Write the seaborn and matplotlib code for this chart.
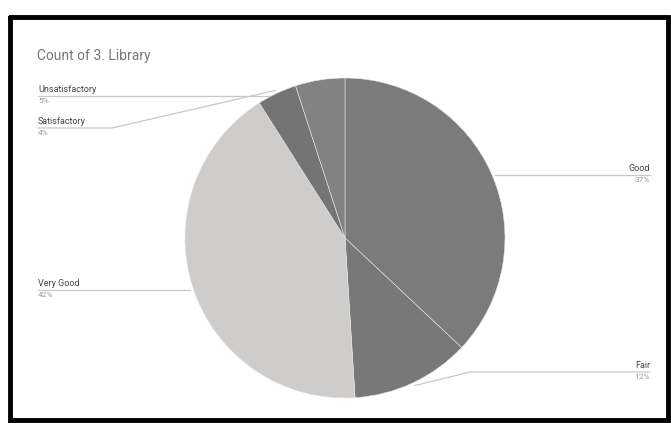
import numpy as np
import matplotlib
matplotlib.use("Agg")
import matplotlib.pyplot as plt
import seaborn as sns

# data (counts, clockwise from 12 o'clock)
categories = ["Good", "Fair", "Very Good", "Satisfactory", "Unsatisfactory"]
counts = [37, 12, 42, 4, 5]
colors = ["#7b7b7b", "#787878", "#cfcccc", "#747474", "#828282"]
title = "Count of 3. Library"

sns.set_theme(style="white")
plt.rcParams["font.family"] = ["Roboto", "DejaVu Sans"]

W, H = 671, 423
fig = plt.figure(figsize=(W / 100, H / 100), dpi=100)
fig.patch.set_facecolor("white")

# pie geometry in pixels
cx, cy, r = 345, 238, 160
ax = fig.add_axes([(cx - r) / W, 1 - (cy + r) / H, 2 * r / W, 2 * r / H])
ax.pie(counts, colors=colors, startangle=90, counterclock=False,
       wedgeprops=dict(edgecolor="#e6e6e6", linewidth=0.4))
ax.set_xlim(-1, 1)
ax.set_ylim(-1, 1)
ax.set_aspect("auto")
ax.axis("off")

# overlay in pixel coordinates for frame, title and labels
ov = fig.add_axes([0, 0, 1, 1], zorder=-1)
ov.set_xlim(0, W)
ov.set_ylim(H, 0)
ov.axis("off")
ov.patch.set_alpha(0)

ov.plot([10, 668, 668, 10, 10], [17, 17, 420, 420, 17], color="black", lw=3.5,
        solid_joinstyle="miter")
ov.text(37, 56, title, fontsize=10, color="#777777", va="center", ha="left")

total = sum(counts)
cum = np.cumsum([0] + counts)
mids = {c: 360 * (cum[i] + counts[i] / 2) / total for i, c in enumerate(categories)}

# label layout: (text x, line y, side, knee x)
layout = {
    "Unsatisfactory": (38, 96, "left", None),
    "Satisfactory": (38, 128, "left", 112),
    "Very Good": (38, 290, "left", None),
    "Good": (650, 175, "right", None),
    "Fair": (650, 372, "right", 470),
}

for i, cat in enumerate(categories):
    tx, ly, side, knee = layout[cat]
    th = np.radians(mids[cat])
    ex = cx + r * 1.02 * np.sin(th)
    ey = cy - r * 1.02 * np.cos(th)
    if knee is None:
        xs = [tx, ex]
        ys = [ly, ly]
    else:
        xs = [tx, knee, ex]
        ys = [ly, ly, ey]
    ov.plot(xs, ys, color="#c8c8c8", lw=0.9, zorder=0)
    pct = f"{100 * counts[i] / total:.0f}%"
    ha = "left" if side == "left" else "right"
    ov.text(tx, ly - 2, cat, fontsize=6.5, color="#444444", ha=ha, va="bottom")
    ov.text(tx, ly + 2, pct, fontsize=6, color="#9a9a9a", ha=ha, va="top")

fig.savefig("out.png", dpi=100, facecolor="white")
